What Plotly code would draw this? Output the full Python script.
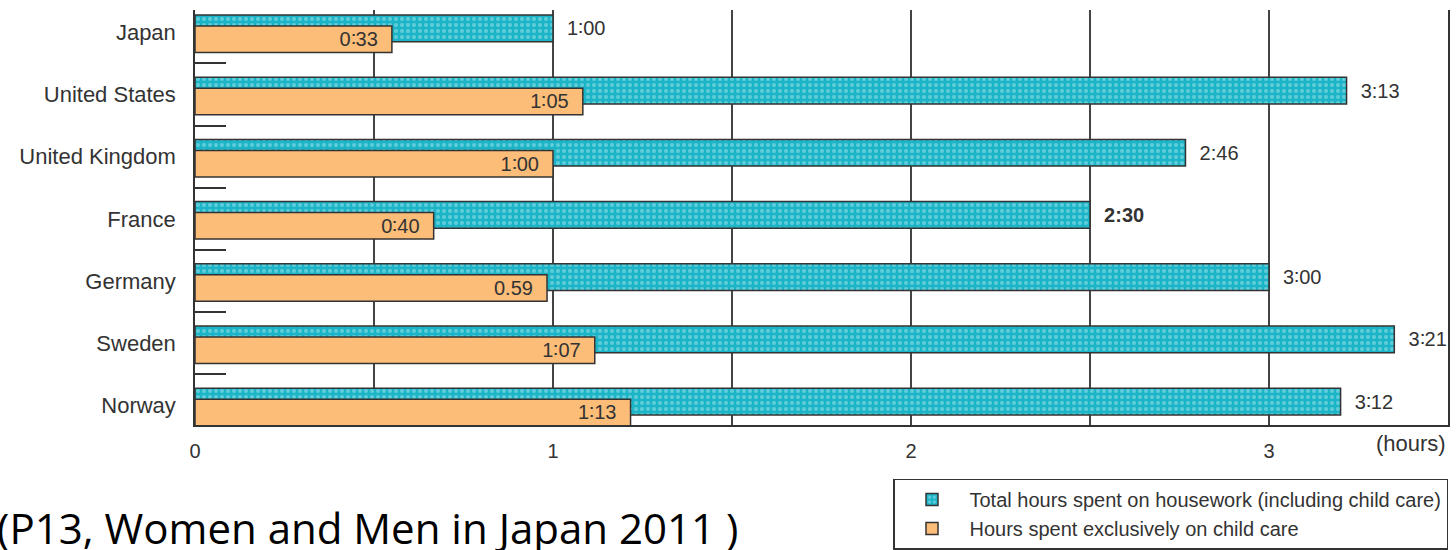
import plotly.graph_objects as go

# Daily time spent by husbands in households with children under 6
countries = ["Japan", "United States", "United Kingdom", "France", "Germany", "Sweden", "Norway"]
housework_min = [60, 193, 166, 150, 180, 201, 192]
childcare_min = [33, 65, 60, 40, 59, 67, 73]
housework_labels = ["1∶00", "3:13", "2:46", "2:30", "3∶00", "3∶21", "3∶12"]
childcare_labels = ["0∶33", "1∶05", "1∶00", "0∶40", "0.59", "1∶07", "1∶13"]
housework_weight = ["normal", "normal", "normal", "bold", "normal", "normal", "normal"]

x_tickvals = [0, 0.5, 1, 1.5, 2, 2.5, 3, 3.5]
x_ticktext = ["0", "", "1", "", "2", "", "3", ""]

housework_h = [m / 60 for m in housework_min]
childcare_h = [m / 60 for m in childcare_min]

FONT = "Liberation Sans, Arial, sans-serif"
INK = "#333333"
TEAL = "#1cb5c7"
TEAL_DOT = "#a6e4eb"
ORANGE = "#fbbd78"

fig = go.Figure()

fig.add_trace(go.Bar(
    name="Total hours spent on housework (including child care)",
    y=countries, x=housework_h, orientation="h",
    offset=-0.277, width=0.43,
    marker=dict(color=TEAL,
                line=dict(color=INK, width=1.5),
                pattern=dict(shape=".", fgcolor=TEAL_DOT, bgcolor=TEAL,
                             size=6, solidity=0.35)),
    text=housework_labels,
    texttemplate="\u00a0\u00a0%{text}",
    textposition="outside",
    textfont=dict(family=FONT, size=20, color=INK, weight=housework_weight),
    constraintext="none",
    cliponaxis=False,
    hoverinfo="skip",
))

fig.add_trace(go.Bar(
    name="Hours spent exclusively on child care",
    y=countries, x=childcare_h, orientation="h",
    offset=-0.1, width=0.426,
    marker=dict(color=ORANGE, line=dict(color=INK, width=1.5)),
    text=childcare_labels,
    texttemplate="%{text}\u00a0\u00a0",
    textposition="inside",
    insidetextanchor="end",
    textfont=dict(family=FONT, size=20, color=INK),
    constraintext="none",
    hoverinfo="skip",
))

fig.update_layout(
    width=1456, height=550,
    margin=dict(l=195, r=8, t=10, b=125, autoexpand=False),
    paper_bgcolor="white", plot_bgcolor="white",
    barmode="overlay",
    font=dict(family=FONT, color=INK),
    showlegend=True,
    legend=dict(
        x=1.0, xanchor="right", y=-0.129, yanchor="top",
        bordercolor=INK, borderwidth=1.5, bgcolor="white",
        font=dict(family=FONT, size=20, color=INK),
        traceorder="normal", tracegroupgap=0, itemwidth=65,
    ),
    xaxis=dict(
        range=[0, 3.5],
        tickvals=x_tickvals, ticktext=x_ticktext,
        showgrid=True, gridcolor="#444444", gridwidth=1.5,
        zeroline=False,
        showline=True, linecolor=INK, linewidth=2,
        ticks="", ticklabelstandoff=7,
        tickfont=dict(family=FONT, size=20, color=INK),
    ),
    yaxis=dict(
        type="category",
        categoryorder="array", categoryarray=countries,
        range=[6.315, -0.357],
        showgrid=False, zeroline=False,
        showline=True, linecolor=INK, linewidth=1.5, mirror=True,
        ticks="inside", tickson="boundaries", ticklen=31,
        tickwidth=1.5, tickcolor=INK,
        ticklabelstandoff=13,
        tickfont=dict(family=FONT, size=22, color=INK),
    ),
    annotations=[
        dict(text="(hours)", xref="paper", yref="paper",
             x=1.0, y=-0.045, xanchor="right", yanchor="middle",
             showarrow=False, font=dict(family=FONT, size=22, color=INK)),
        dict(text="(P13, Women and Men in Japan 2011 )", xref="paper", yref="paper",
             x=-0.1597, y=-0.2458, xanchor="left", yanchor="middle",
             showarrow=False, font=dict(family="Open Sans, sans-serif", size=42, color="black")),
    ],
)

fig.write_html("out.html")
